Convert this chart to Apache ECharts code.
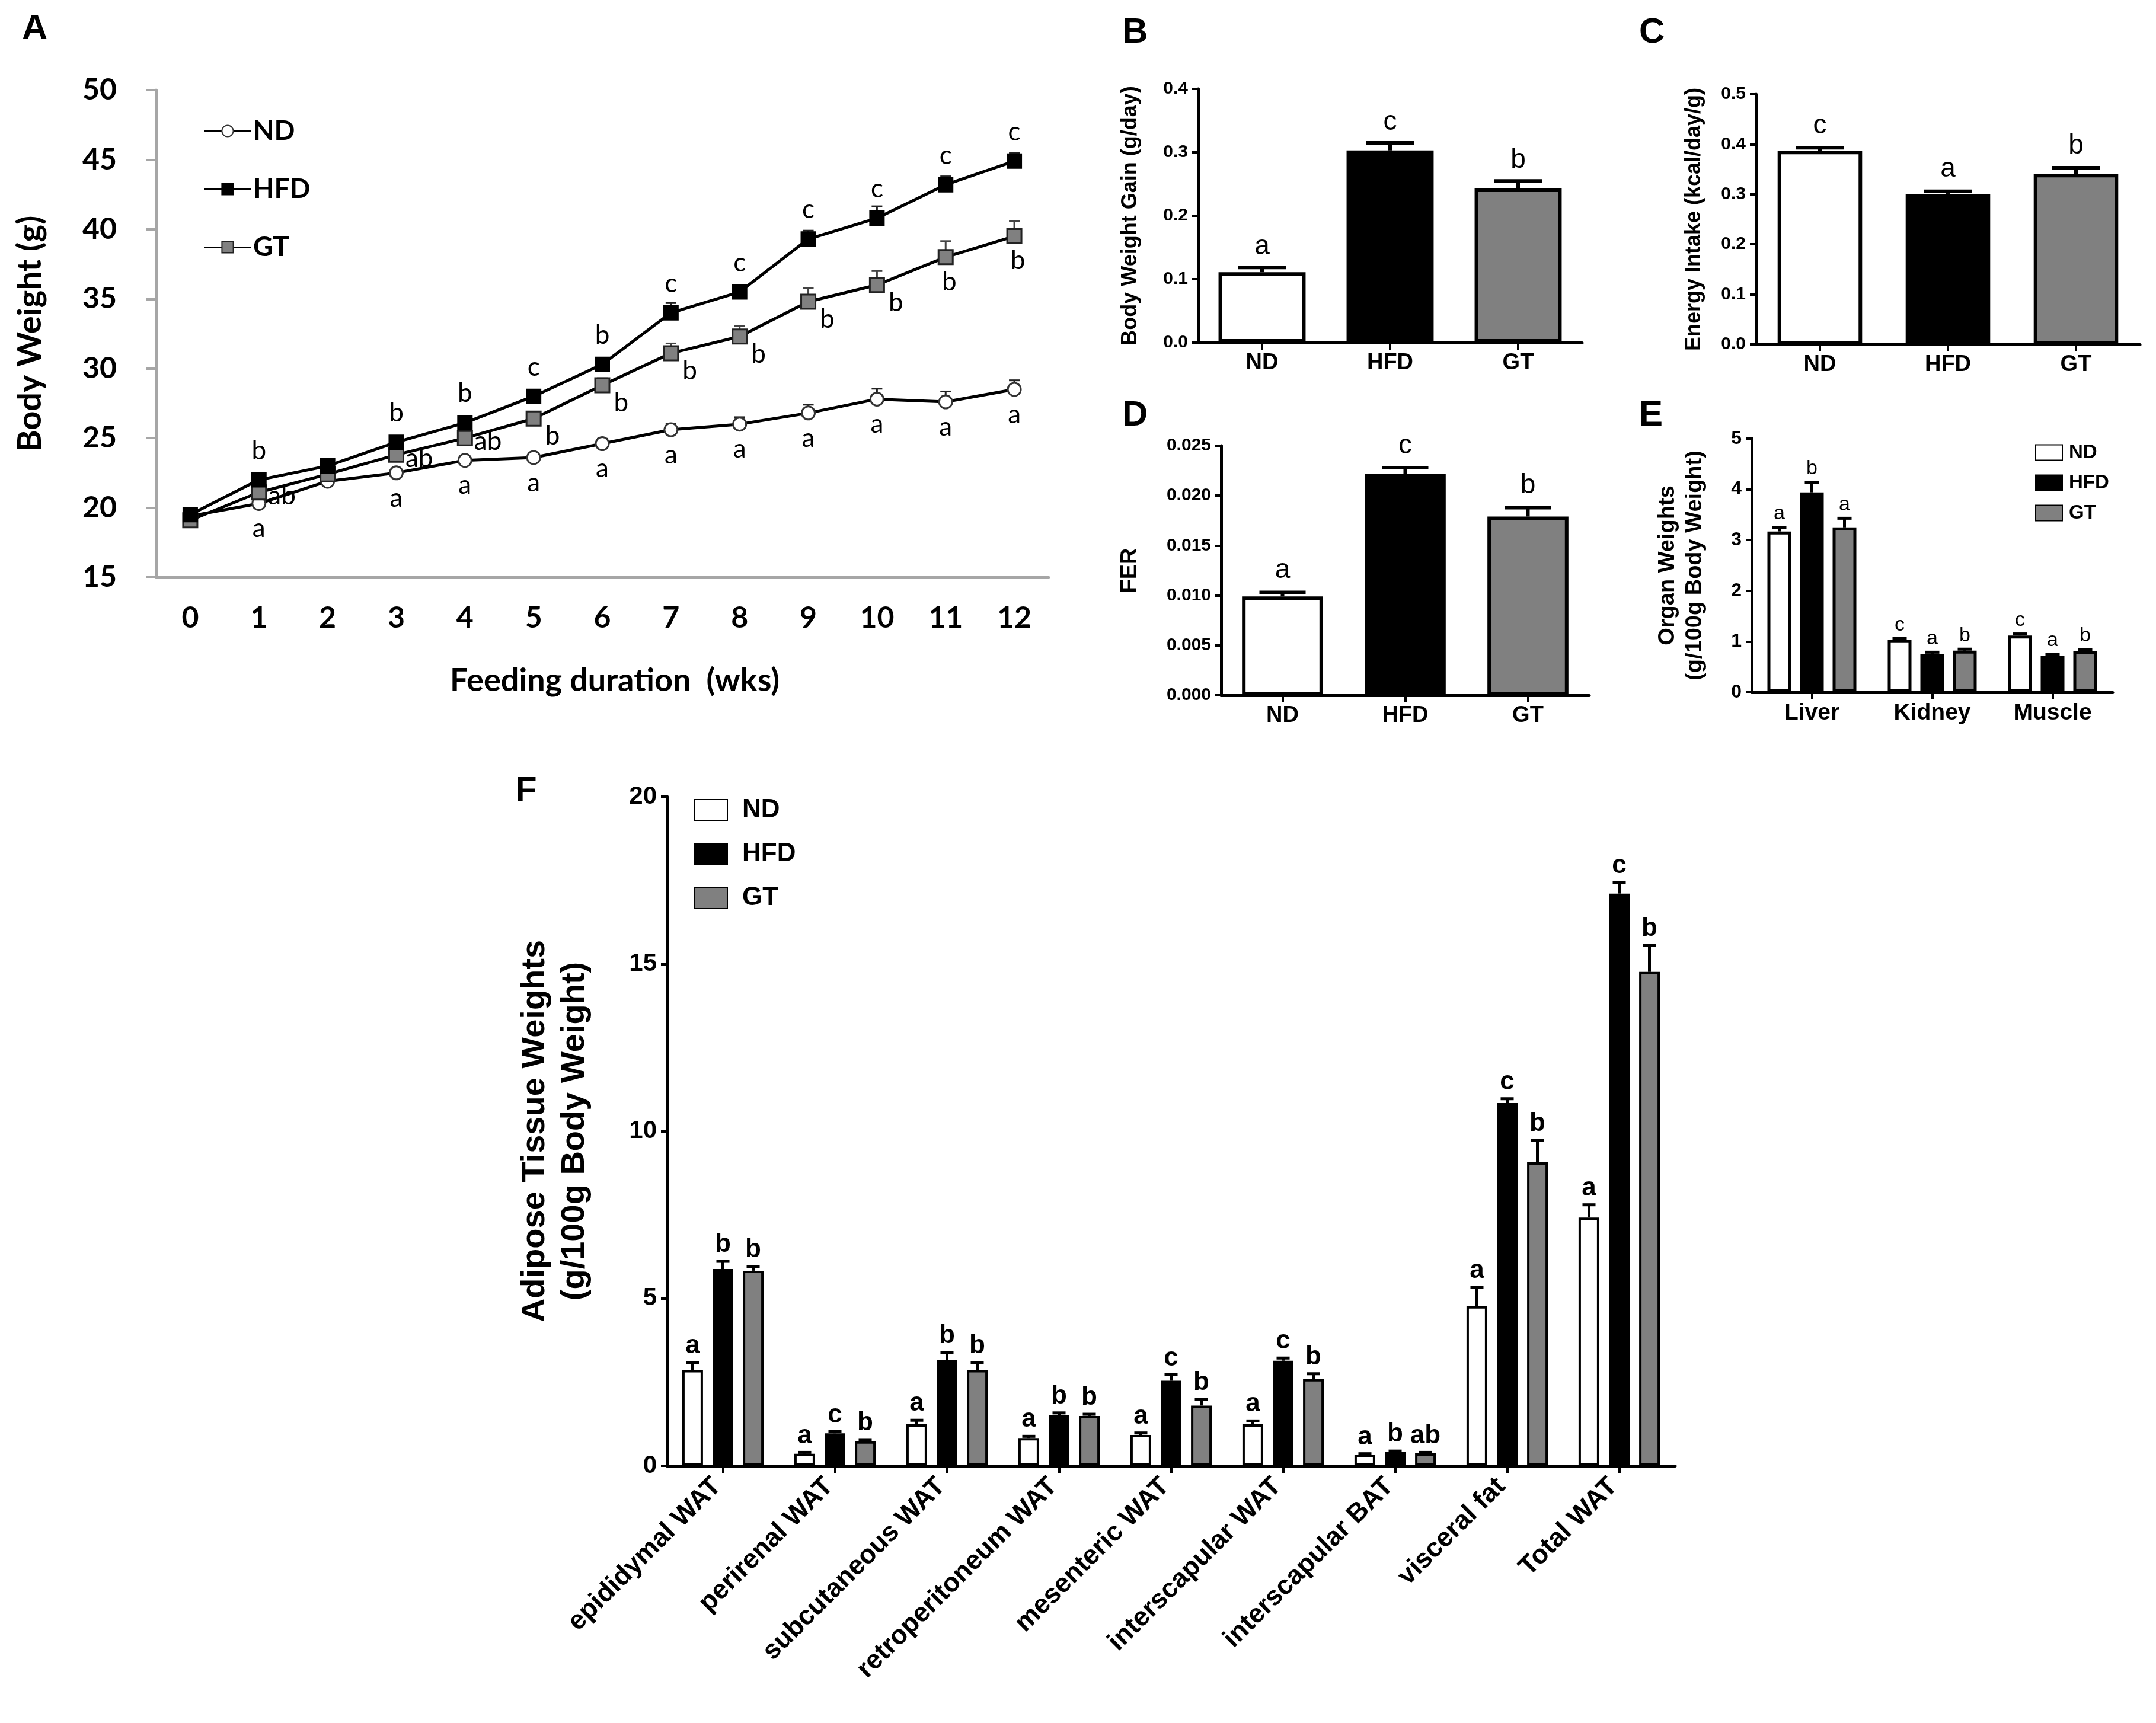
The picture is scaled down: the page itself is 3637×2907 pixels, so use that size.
<!DOCTYPE html>
<html>
<head>
<meta charset="utf-8">
<script src="https://cdn.jsdelivr.net/npm/echarts@6/dist/echarts.min.js"></script>
<style>
  html, body { margin: 0; padding: 0; background: #fff; }
  #chart { width: 3637px; height: 2907px; }
</style>
</head>
<body>
<div id="chart"></div>
<script>
// ---- data ----
let weeks = ['0', '1', '2', '3', '4', '5', '6', '7', '8', '9', '10', '11', '12'];
let ndWeight = [19.4, 20.3, 21.9, 22.5, 23.4, 23.6, 24.6, 25.6, 26.0, 26.8, 27.8, 27.6, 28.5];
let hfdWeight = [19.5, 22.0, 23.0, 24.7, 26.1, 28.0, 30.3, 34.0, 35.5, 39.3, 40.8, 43.2, 44.9];
let gtWeight = [19.1, 21.1, 22.4, 23.8, 25.0, 26.4, 28.8, 31.1, 32.3, 34.8, 36.0, 38.0, 39.5];
let ndWeightErr = [0.2, 0.3, 0.3, 0.3, 0.3, 0.3, 0.35, 0.45, 0.5, 0.6, 0.75, 0.75, 0.65];
let hfdWeightErr = [0.2, 0.3, 0.3, 0.35, 0.4, 0.45, 0.45, 0.7, 0.5, 0.6, 0.85, 0.6, 0.6];
let gtWeightErr = [0.2, 0.3, 0.3, 0.3, 0.35, 0.4, 0.5, 0.7, 0.75, 1.0, 1.0, 1.15, 1.1];
let ndWeightSig = ['', 'a', '', 'a', 'a', 'a', 'a', 'a', 'a', 'a', 'a', 'a', 'a'];
let hfdWeightSig = ['', 'b', '', 'b', 'b', 'c', 'b', 'c', 'c', 'c', 'c', 'c', 'c'];
let gtWeightSig = ['', 'ab', '', 'ab', 'ab', 'b', 'b', 'b', 'b', 'b', 'b', 'b', 'b'];

let groups = ['ND', 'HFD', 'GT'];
let bwGain = [0.111, 0.303, 0.243];
let bwGainErr = [0.0075, 0.012, 0.012];
let bwGainSig = ['a', 'c', 'b'];
let energy = [0.387, 0.301, 0.341];
let energyErr = [0.006, 0.005, 0.012];
let energySig = ['c', 'a', 'b'];
let fer = [0.0099, 0.0222, 0.0179];
let ferErr = [0.0004, 0.0006, 0.0009];
let ferSig = ['a', 'c', 'b'];

let organs = ['Liver', 'Kidney', 'Muscle'];
let organND = [3.17, 1.03, 1.12];
let organHFD = [3.94, 0.76, 0.72];
let organGT = [3.25, 0.82, 0.81];
let organNDErr = [0.08, 0.03, 0.03];
let organHFDErr = [0.2, 0.03, 0.03];
let organGTErr = [0.18, 0.03, 0.03];
let organNDSig = ['a', 'c', 'c'];
let organHFDSig = ['b', 'a', 'a'];
let organGTSig = ['a', 'b', 'b'];

let tissues = ['epididymal WAT', 'perirenal WAT', 'subcutaneous WAT', 'retroperitoneum WAT',
  'mesenteric WAT', 'interscapular WAT', 'interscapular BAT', 'visceral fat', 'Total WAT'];
let fatND = [2.86, 0.36, 1.24, 0.83, 0.92, 1.24, 0.33, 4.77, 7.42];
let fatHFD = [5.88, 0.97, 3.17, 1.52, 2.54, 3.14, 0.41, 10.84, 17.1];
let fatGT = [5.83, 0.73, 2.86, 1.49, 1.8, 2.59, 0.37, 9.07, 14.76];
let fatNDErr = [0.22, 0.04, 0.12, 0.05, 0.06, 0.1, 0.03, 0.57, 0.38];
let fatHFDErr = [0.23, 0.05, 0.22, 0.06, 0.18, 0.08, 0.03, 0.13, 0.33];
let fatGTErr = [0.13, 0.05, 0.22, 0.05, 0.18, 0.16, 0.03, 0.66, 0.79];
let fatNDSig = ['a', 'a', 'a', 'a', 'a', 'a', 'a', 'a', 'a'];
let fatHFDSig = ['b', 'c', 'b', 'b', 'c', 'c', 'b', 'c', 'c'];
let fatGTSig = ['b', 'b', 'b', 'b', 'b', 'b', 'ab', 'b', 'b'];

// ---- style ----
let fontA = 'Lato';
let fontArial = "'Liberation Sans', Arial, sans-serif";
let fillND = '#ffffff', fillHFD = '#000000', fillGT = '#808080';

// error bars (+ letters) drawn above each bar / point
function errBars(axisIdx, vals, errs, sig, o) {
  return {
    type: 'custom',
    xAxisIndex: axisIdx,
    yAxisIndex: axisIdx,
    z: o.z || 3,
    silent: true,
    data: vals.map(function (v, i) { return [i, v, errs[i]]; }),
    renderItem: function (params, api) {
      let i = api.value(0), v = api.value(1), e = api.value(2);
      let base = api.coord([i, v]);
      let top = api.coord([i, v + e]);
      let x = base[0] + (o.shift || 0);
      let kids = [
        { type: 'line', shape: { x1: x, y1: base[1], x2: x, y2: top[1] },
          style: { stroke: o.color || '#000', lineWidth: o.lw } },
        { type: 'line', shape: { x1: x - o.cap / 2, y1: top[1], x2: x + o.cap / 2, y2: top[1] },
          style: { stroke: o.color || '#000', lineWidth: o.lw } }
      ];
      if (sig && sig[params.dataIndex]) {
        kids.push({ type: 'text', style: {
          text: sig[params.dataIndex], x: x, y: top[1] - o.gap,
          align: 'center', verticalAlign: 'bottom', fill: '#000',
          fontSize: o.fs, fontFamily: fontArial, fontWeight: o.fw || 'normal'
        } });
      }
      return { type: 'group', children: kids };
    }
  };
}

function catAxis(idx, cats, fs, extra) {
  let ax = {
    type: 'category', gridIndex: idx, data: cats,
    axisLine: { lineStyle: { color: '#000', width: 5 } },
    axisTick: { show: true, alignWithLabel: true, length: 12, lineStyle: { color: '#000', width: 4 } },
    axisLabel: { color: '#000', fontSize: fs, fontWeight: 'bold', fontFamily: fontArial, margin: 16 }
  };
  return Object.assign(ax, extra || {});
}

function valAxis(idx, min, max, step, dec, name, gap, nameFs, labelFs) {
  return {
    type: 'value', gridIndex: idx, min: min, max: max, interval: step,
    axisLine: { show: true, lineStyle: { color: '#000', width: 5 } },
    axisTick: { show: true, length: 10, lineStyle: { color: '#000', width: 4 } },
    splitLine: { show: false },
    axisLabel: { color: '#000', fontSize: labelFs, fontWeight: 'bold', fontFamily: fontArial, margin: 17,
      formatter: function (v) { return v.toFixed(dec); } },
    name: name, nameLocation: 'middle', nameRotate: 90, nameGap: gap,
    nameTextStyle: { color: '#000', fontSize: nameFs, fontWeight: 'bold', fontFamily: fontArial,
      lineHeight: Math.round(nameFs * 1.2) }
  };
}

function barSeries(name, axisIdx, vals, fill, o) {
  return {
    name: name, type: 'bar', xAxisIndex: axisIdx, yAxisIndex: axisIdx,
    data: vals, barWidth: o.bw, barGap: o.gap,
    itemStyle: { color: fill, borderColor: '#000', borderWidth: o.border }
  };
}

function singleBars(axisIdx, vals, bw) {
  return {
    type: 'bar', xAxisIndex: axisIdx, yAxisIndex: axisIdx, barWidth: bw,
    data: vals.map(function (v, i) { return { value: v, itemStyle: { color: [fillND, fillHFD, fillGT][i] } }; }),
    itemStyle: { borderColor: '#000', borderWidth: 6 }
  };
}

// GT labels in A sit to the right / lower right of the squares
function gtLabel(i) {
  if (i <= 4) return { position: 'right', distance: 2, offset: [0, 6] };
  if (i <= 10) return { position: 'right', distance: 6, offset: [0, 30] };
  return { position: 'bottom', distance: 6, offset: [6, 0] };
}

function lineData(vals, labelFn) {
  return vals.map(function (v, i) {
    let d = { value: v };
    if (labelFn) d.label = labelFn(i);
    return d;
  });
}

function letterLabel(sig, pos, dist) {
  return {
    show: true, position: pos, distance: dist, color: '#000',
    fontSize: 44, fontFamily: fontA,
    formatter: function (p) { return sig[p.dataIndex]; }
  };
}

let chart = echarts.init(document.getElementById('chart'));

let option = {
  backgroundColor: '#fff',
  animation: false,
  title: [
    { text: 'A', left: 32, top: 14 },
    { text: 'B', left: 1888, top: 20 },
    { text: 'C', left: 2760, top: 20 },
    { text: 'D', left: 1888, top: 666 },
    { text: 'E', left: 2760, top: 666 },
    { text: 'F', left: 864, top: 1300 }
  ].map(function (t) {
    t.textStyle = { fontSize: 60, fontWeight: 'bold', fontFamily: fontArial, color: '#000' };
    return t;
  }),
  legend: [
    {
      data: ['ND_A', 'HFD_A', 'GT_A'], orient: 'vertical', left: 338, top: 192,
      itemWidth: 80, itemHeight: 24, itemGap: 50, selectedMode: false,
      formatter: function (n) { return n.split('_')[0]; },
      textStyle: { fontSize: 46, fontWeight: 'bold', fontFamily: fontA, color: '#000', lineHeight: 48, padding: [0, 0, 0, -2] }
    },
    {
      data: ['ND_E', 'HFD_E', 'GT_E'], orient: 'vertical', left: 3428, top: 742,
      icon: 'rect', itemWidth: 45, itemHeight: 26, itemGap: 18, selectedMode: false,
      formatter: function (n) { return n.split('_')[0]; },
      textStyle: { fontSize: 33, fontWeight: 'bold', fontFamily: fontArial, color: '#000', padding: [0, 0, 0, 6] }
    },
    {
      data: ['ND_F', 'HFD_F', 'GT_F'], orient: 'vertical', left: 1165, top: 1340,
      icon: 'rect', itemWidth: 56, itemHeight: 36, itemGap: 30, selectedMode: false,
      formatter: function (n) { return n.split('_')[0]; },
      textStyle: { fontSize: 44, fontWeight: 'bold', fontFamily: fontArial, color: '#000', padding: [0, 0, 0, 20] }
    }
  ],
  grid: [
    { left: 263, top: 152, width: 1506, height: 822 },
    { left: 2021, top: 150, width: 648, height: 428 },
    { left: 2962, top: 159, width: 648, height: 422 },
    { left: 2060, top: 752, width: 621, height: 421 },
    { left: 2955, top: 740, width: 609, height: 428 },
    { left: 1125, top: 1344, width: 1701, height: 1129 }
  ],
  xAxis: [
    {
      type: 'category', gridIndex: 0, data: weeks,
      axisLine: { lineStyle: { color: '#a6a6a6', width: 5 } },
      axisTick: { show: false },
      axisLabel: { color: '#000', fontSize: 50, fontWeight: 'bold', fontFamily: fontA, margin: 44 },
      name: 'Feeding duration  (wks)', nameLocation: 'middle', nameGap: 148,
      nameTextStyle: { color: '#000', fontSize: 54, fontWeight: 'bold', fontFamily: fontA, padding: [0, 0, 0, 42] }
    },
    catAxis(1, groups, 38),
    catAxis(2, groups, 38),
    catAxis(3, groups, 38),
    catAxis(4, organs, 39),
    catAxis(5, tissues, 45, {
      axisLabel: { color: '#000', fontSize: 45, fontWeight: 'bold', fontFamily: fontArial, margin: 18, rotate: 45,
        padding: [0, 14, 0, 0] }
    })
  ],
  yAxis: [
    {
      type: 'value', gridIndex: 0, min: 15, max: 50, interval: 5,
      axisLine: { show: true, lineStyle: { color: '#a6a6a6', width: 5 } },
      axisTick: { show: true, length: 17, lineStyle: { color: '#a6a6a6', width: 4 } },
      splitLine: { show: false },
      axisLabel: { color: '#000', fontSize: 50, fontWeight: 'bold', fontFamily: fontA, margin: 66 },
      name: 'Body Weight (g)', nameLocation: 'middle', nameRotate: 90, nameGap: 184,
      nameTextStyle: { color: '#000', fontSize: 56, fontWeight: 'bold', fontFamily: fontA }
    },
    valAxis(1, 0, 0.4, 0.1, 1, 'Body Weight Gain (g/day)', 92, 36, 30),
    valAxis(2, 0, 0.5, 0.1, 1, 'Energy Intake (kcal/day/g)', 82, 36, 30),
    valAxis(3, 0, 0.025, 0.005, 3, 'FER', 130, 38, 30),
    valAxis(4, 0, 5, 1, 0, 'Organ Weights\n(g/100g Body Weight)', 72, 38, 32),
    valAxis(5, 0, 20, 5, 0, 'Adipose Tissue Weights\n(g/100g Body Weight)', 122, 56, 42)
  ],
  series: [
    // ---- A ----
    errBars(0, ndWeight, ndWeightErr, null, { lw: 3, cap: 18, z: 1, color: '#222' }),
    errBars(0, hfdWeight, hfdWeightErr, null, { lw: 3, cap: 18, z: 1, color: '#222' }),
    errBars(0, gtWeight, gtWeightErr, null, { lw: 3, cap: 18, z: 1, color: '#444' }),
    {
      name: 'ND_A', type: 'line', xAxisIndex: 0, yAxisIndex: 0, z: 3,
      data: lineData(ndWeight), symbol: 'circle', symbolSize: 22,
      lineStyle: { color: '#000', width: 5 },
      itemStyle: { color: fillND, borderColor: '#333', borderWidth: 3 },
      label: letterLabel(ndWeightSig, 'bottom', 8)
    },
    {
      name: 'GT_A', type: 'line', xAxisIndex: 0, yAxisIndex: 0, z: 4,
      data: lineData(gtWeight, gtLabel), symbol: 'rect', symbolSize: 24,
      lineStyle: { color: '#000', width: 5 },
      itemStyle: { color: fillGT, borderColor: '#222', borderWidth: 3 },
      label: letterLabel(gtWeightSig, 'right', 6)
    },
    {
      name: 'HFD_A', type: 'line', xAxisIndex: 0, yAxisIndex: 0, z: 5,
      data: lineData(hfdWeight), symbol: 'rect', symbolSize: 24,
      lineStyle: { color: '#000', width: 5 },
      itemStyle: { color: fillHFD, borderColor: '#000', borderWidth: 2 },
      label: letterLabel(hfdWeightSig, 'top', 14)
    },
    // ---- B ----
    singleBars(1, bwGain, '68%'),
    errBars(1, bwGain, bwGainErr, bwGainSig, { lw: 6, cap: 80, gap: 12, fs: 46 }),
    // ---- C ----
    singleBars(2, energy, '66%'),
    errBars(2, energy, energyErr, energySig, { lw: 6, cap: 80, gap: 14, fs: 46 }),
    // ---- D ----
    singleBars(3, fer, '66%'),
    errBars(3, fer, ferErr, ferSig, { lw: 6, cap: 78, gap: 14, fs: 46 }),
    // ---- E ----
    barSeries('ND_E', 4, organND, fillND, { bw: 40, gap: '37.5%', border: 5 }),
    barSeries('HFD_E', 4, organHFD, fillHFD, { bw: 40, gap: '37.5%', border: 5 }),
    barSeries('GT_E', 4, organGT, fillGT, { bw: 40, gap: '37.5%', border: 5 }),
    errBars(4, organND, organNDErr, organNDSig, { lw: 5, cap: 24, gap: 6, fs: 34, shift: -55 }),
    errBars(4, organHFD, organHFDErr, organHFDSig, { lw: 5, cap: 24, gap: 6, fs: 34, shift: 0 }),
    errBars(4, organGT, organGTErr, organGTSig, { lw: 5, cap: 24, gap: 6, fs: 34, shift: 55 }),
    // ---- F ----
    barSeries('ND_F', 5, fatND, fillND, { bw: 35, gap: '46%', border: 4 }),
    barSeries('HFD_F', 5, fatHFD, fillHFD, { bw: 35, gap: '46%', border: 4 }),
    barSeries('GT_F', 5, fatGT, fillGT, { bw: 35, gap: '46%', border: 4 }),
    errBars(5, fatND, fatNDErr, fatNDSig, { lw: 5, cap: 22, gap: 6, fs: 44, fw: 'bold', shift: -51 }),
    errBars(5, fatHFD, fatHFDErr, fatHFDSig, { lw: 5, cap: 22, gap: 6, fs: 44, fw: 'bold', shift: 0 }),
    errBars(5, fatGT, fatGTErr, fatGTSig, { lw: 5, cap: 22, gap: 6, fs: 44, fw: 'bold', shift: 51 })
  ]
};

chart.setOption(option);
</script>
</body>
</html>
